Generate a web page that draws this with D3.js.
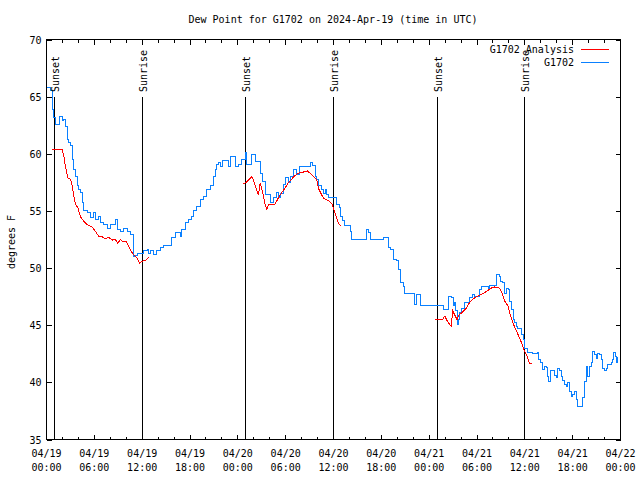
<!DOCTYPE html>
<html><head><meta charset="utf-8">
<script src="https://cdn.jsdelivr.net/npm/d3@7/dist/d3.min.js"></script>
<style>
body{margin:0;background:#fff}
svg{display:block}
text{font-family:"DejaVu Sans Mono",monospace;font-size:10px;fill:#000}
</style>
</head><body>
<svg id="chart" width="640" height="480"></svg>
<script>
// ---- data (hours after 2024-04-19 00:00 UTC, degrees F) ----
const titleText = "Dew Point for G1702 on 2024-Apr-19 (time in UTC)";
const yLabelText = "degrees F";
const seriesNames = ["G1702 Analysis", "G1702"];
const yTicks = [35, 40, 45, 50, 55, 60, 65, 70];
const xMajorTickHours = [0, 6, 12, 18, 24, 30, 36, 42, 48, 54, 60, 66, 72];
const sunEventHours = [0.91, 11.93, 24.93, 35.97, 48.98, 59.93];
const sunEventLabels = ["Sunset", "Sunrise", "Sunset", "Sunrise", "Sunset", "Sunrise"];

const obsHours = [0.09,0.5,0.71,0.91,1.13,1.54,1.67,1.97,2.17,2.38,2.59,2.79,3.01,3.22,3.42,3.63,3.84,4.04,4.26,4.47,4.67,5.1,5.51,5.92,6.14,6.55,6.76,7.18,7.6,8.01,8.64,8.85,9.27,9.68,10.11,10.52,10.86,10.93,11.14,11.36,11.77,12.18,12.61,12.81,13.02,13.44,13.86,14.28,14.69,15.53,15.74,16.15,16.78,16.99,17.41,17.82,18.24,18.44,18.87,19.28,19.7,20.12,20.54,20.95,21.16,21.38,21.58,21.79,22.13,22.63,22.83,23.04,23.54,23.75,24.04,24.51,24.92,25.13,25.76,26.17,26.71,26.88,27.14,27.42,27.84,28.14,28.46,28.8,29.09,29.3,29.71,29.93,30.34,30.55,30.97,31.31,31.72,32.72,33.06,33.4,33.68,33.9,34.1,34.52,34.72,34.94,35.15,35.35,36.19,36.4,36.73,36.9,37.15,37.32,37.85,38.07,38.28,39.94,40.16,40.36,40.66,42.04,42.24,42.66,42.86,43.16,43.49,43.91,44.2,44.42,44.74,44.95,45.99,46.21,46.42,46.75,46.92,49.67,49.84,50.25,50.46,50.8,51.0,51.21,51.34,51.5,51.68,51.84,52.05,52.47,53.01,53.43,53.72,54.13,54.35,54.56,55.19,55.39,55.6,56.22,56.44,56.76,56.94,57.26,57.48,57.69,57.89,58.1,58.32,58.52,58.73,58.94,59.14,59.35,59.57,59.77,59.98,60.39,61.02,61.65,61.77,61.95,62.2,62.48,62.7,62.9,63.02,63.2,63.52,63.74,63.95,64.15,64.36,64.58,64.78,64.99,65.2,65.4,65.62,65.83,66.03,66.24,66.45,66.65,67.08,67.28,67.49,67.71,67.91,68.12,68.33,68.53,68.75,68.96,69.16,69.37,69.58,69.79,70.0,70.21,70.41,70.84,71.04,71.16,71.38,71.46,71.66];
const obsValues = [65.8,65.5,63.9,63.2,62.6,62.6,63.3,62.9,63.0,62.4,61.25,61.0,60.7,59.5,58.6,58.0,57.2,56.9,56.6,55.7,55.0,54.9,54.4,54.9,54.25,54.5,54.0,53.8,53.45,53.8,54.25,53.4,53.2,53.5,53.2,52.9,52.8,51.0,51.1,51.3,51.3,51.5,51.6,51.3,51.5,51.2,51.5,51.8,52.0,52.0,52.65,53.1,52.8,53.4,54.0,54.25,54.5,55.0,55.4,56.0,56.3,56.9,57.2,58.0,58.6,59.1,59.2,58.9,59.4,59.4,58.9,59.8,59.8,58.85,59.1,59.5,60.1,59.1,59.9,59.3,59.3,58.3,57.6,56.4,56.4,55.7,56.15,56.6,56.15,56.5,57.3,57.9,57.45,58.0,58.6,58.2,58.85,58.85,59.2,58.95,58.0,57.75,57.2,56.9,56.5,56.9,56.4,56.15,56.15,55.6,55.3,54.5,54.2,53.7,53.7,53.2,52.5,52.5,53.4,53.1,52.5,52.5,52.7,52.7,51.8,51.6,50.75,50.7,49.9,48.7,48.4,47.8,47.8,46.8,47.7,47.7,46.7,46.7,46.4,46.4,47.5,47.4,46.7,47.0,46.25,45.06,45.5,46.1,46.5,47.0,47.4,47.7,47.5,47.55,48.1,48.4,48.4,48.15,48.45,48.45,49.4,49.3,48.85,48.7,47.8,48.25,48.1,47.1,46.4,45.5,45.2,44.9,44.75,44.7,44.2,43.75,43.0,42.6,42.55,42.6,42.0,41.7,41.1,41.4,41.3,40.5,40.1,41.0,41.0,40.6,40.4,41.25,41.0,40.5,40.2,39.8,39.6,40.0,39.2,38.8,38.9,39.2,38.5,37.9,37.9,38.7,40.1,41.4,40.5,41.4,41.7,42.7,42.4,42.1,42.55,42.4,42.0,41.25,41.0,41.25,41.6,41.7,42.0,42.6,42.3,41.7,42.2];

// analysis series: three segments separated by null
const anaHours = [0.71,1.97,2.17,2.38,2.67,3.01,3.22,3.42,3.63,3.92,4.26,4.67,5.1,5.72,6.14,6.55,6.97,7.39,7.8,8.23,8.64,8.93,9.27,9.6,10.02,10.18,10.52,10.86,11.36,11.68,11.98,12.4,12.81,
  null,
  24.71,25.04,25.76,25.96,26.3,26.58,26.8,27.01,27.21,27.42,27.64,27.84,28.68,29.09,29.51,29.93,30.34,30.77,31.18,31.59,32.22,32.72,33.06,33.47,33.9,34.1,34.52,34.81,35.35,35.78,35.98,36.19,36.4,36.6,36.9,
  null,
  48.71,49.34,49.67,49.96,50.25,50.59,50.8,50.93,51.21,51.5,51.75,52.26,52.68,53.09,53.51,53.93,54.56,55.19,55.81,56.22,56.85,57.06,57.48,57.89,58.1,58.44,58.73,59.14,59.57,59.98,60.27,60.61,60.95];
const anaValues = [60.4,60.4,59.8,58.9,57.9,57.75,57.2,56.3,55.6,55.3,54.5,54.1,53.8,53.6,53.2,52.8,52.75,52.55,52.7,52.45,52.5,52.15,52.5,52.3,52.35,52.06,51.6,51.2,50.9,50.45,50.6,50.65,50.95,
  null,
  57.4,57.5,58.0,57.7,57.0,56.4,57.45,56.9,56.3,55.6,55.1,55.6,55.6,56.15,56.6,57.0,57.5,57.8,58.1,58.3,58.4,58.5,58.3,58.0,57.75,57.0,56.4,56.1,55.9,55.65,55.3,54.8,54.4,53.95,53.7,
  null,
  45.5,45.5,45.5,45.8,45.4,45.06,44.9,46.3,45.9,45.5,45.9,46.2,46.5,47.0,47.3,47.5,47.7,47.95,48.25,48.35,48.25,47.95,47.1,46.7,46.1,45.35,44.8,44.2,43.5,42.7,42.3,41.65,41.65];

// ---- chart ----
const svg = d3.select("#chart");
const base = Date.UTC(2024, 3, 19);
const hr = h => new Date(base + h * 3600e3);
const L = 46.5, R = 620.5, T = 39.5, B = 439.5;
const x = d3.scaleUtc().domain([hr(0), hr(72)]).range([L, R]);
const y = d3.scaleLinear().domain([35, 70]).range([B, T]);
const red = "#ff0000", blue = "#0a80ff";

const g = svg.append("g").attr("shape-rendering", "crispEdges");

// title
svg.append("text").attr("x", 333).attr("y", 23).attr("text-anchor", "middle").text(titleText);
// y label
svg.append("text").attr("transform", "translate(15,242) rotate(-90)")
  .attr("text-anchor", "middle").text(yLabelText);

// x ticks (inward, every 2 h, longer every 6 h), bottom and top
const minorHours = d3.range(0, 73, 2);
function drawXTicks(yPos, dir) {
  const gg = g.append("g");
  minorHours.forEach(h => {
    const len = (h % 6 === 0) ? 5 : 3;
    gg.append("line").attr("x1", x(hr(h))).attr("x2", x(hr(h)))
      .attr("y1", yPos).attr("y2", yPos + dir * len).attr("stroke", "#000");
  });
}
drawXTicks(B, -1);
drawXTicks(T, 1);

const axL = d3.axisLeft(y).tickValues(yTicks).tickSizeInner(-5).tickSizeOuter(0).tickPadding(5);
const gl = svg.append("g").attr("transform", `translate(${L},0)`).attr("shape-rendering", "crispEdges").call(axL);
gl.select(".domain").remove();
gl.selectAll("text").attr("font-family", "DejaVu Sans Mono").attr("font-size", 10).attr("dy", "0.35em");
const axR = d3.axisRight(y).tickValues(yTicks).tickSizeInner(-5).tickSizeOuter(0).tickFormat("");
const gr = svg.append("g").attr("transform", `translate(${R},0)`).attr("shape-rendering", "crispEdges").call(axR);
gr.select(".domain").remove();

// x labels
const fmtD = d3.utcFormat("%m/%d"), fmtT = d3.utcFormat("%H:%M");
xMajorTickHours.forEach(h => {
  const t = svg.append("text").attr("x", x(hr(h))).attr("text-anchor", "middle");
  t.append("tspan").attr("x", x(hr(h))).attr("y", 457).text(fmtD(hr(h)));
  t.append("tspan").attr("x", x(hr(h))).attr("y", 471).text(fmtT(hr(h)));
});

// sunrise / sunset
sunEventHours.forEach((h, i) => {
  const xp = Math.round(x(hr(h))) + 0.5;
  g.append("line").attr("x1", xp).attr("x2", xp).attr("y1", 97).attr("y2", B).attr("stroke", "#000");
  svg.append("text").attr("transform", `translate(${xp + 4.5},92) rotate(-90)`)
    .attr("text-anchor", "start").text(sunEventLabels[i]);
});

// series
const obs = obsHours.map((h, i) => ({t: hr(h), v: obsValues[i]}));
const ana = anaHours.map((h, i) => ({t: h == null ? null : hr(h), v: anaValues[i]}));
const stepLine = d3.line().x(d => x(d.t)).y(d => y(d.v)).curve(d3.curveStepAfter);
const line = d3.line().defined(d => d.t != null).x(d => x(d.t)).y(d => y(d.v));
g.append("path").attr("d", stepLine(obs)).attr("fill", "none").attr("stroke", blue).attr("stroke-width", 1);
g.append("path").attr("d", line(ana)).attr("fill", "none").attr("stroke", red).attr("stroke-width", 1);

// frame
g.append("rect").attr("x", L).attr("y", T).attr("width", R - L).attr("height", B - T)
  .attr("fill", "none").attr("stroke", "#000");

// legend
[[seriesNames[0], red, 53], [seriesNames[1], blue, 66]].forEach(([name, col, yy]) => {
  svg.append("text").attr("x", 574).attr("y", yy).attr("text-anchor", "end").text(name);
  g.append("line").attr("x1", 581).attr("x2", 609).attr("y1", yy - 3.5).attr("y2", yy - 3.5)
    .attr("stroke", col);
});
</script>
</body></html>
